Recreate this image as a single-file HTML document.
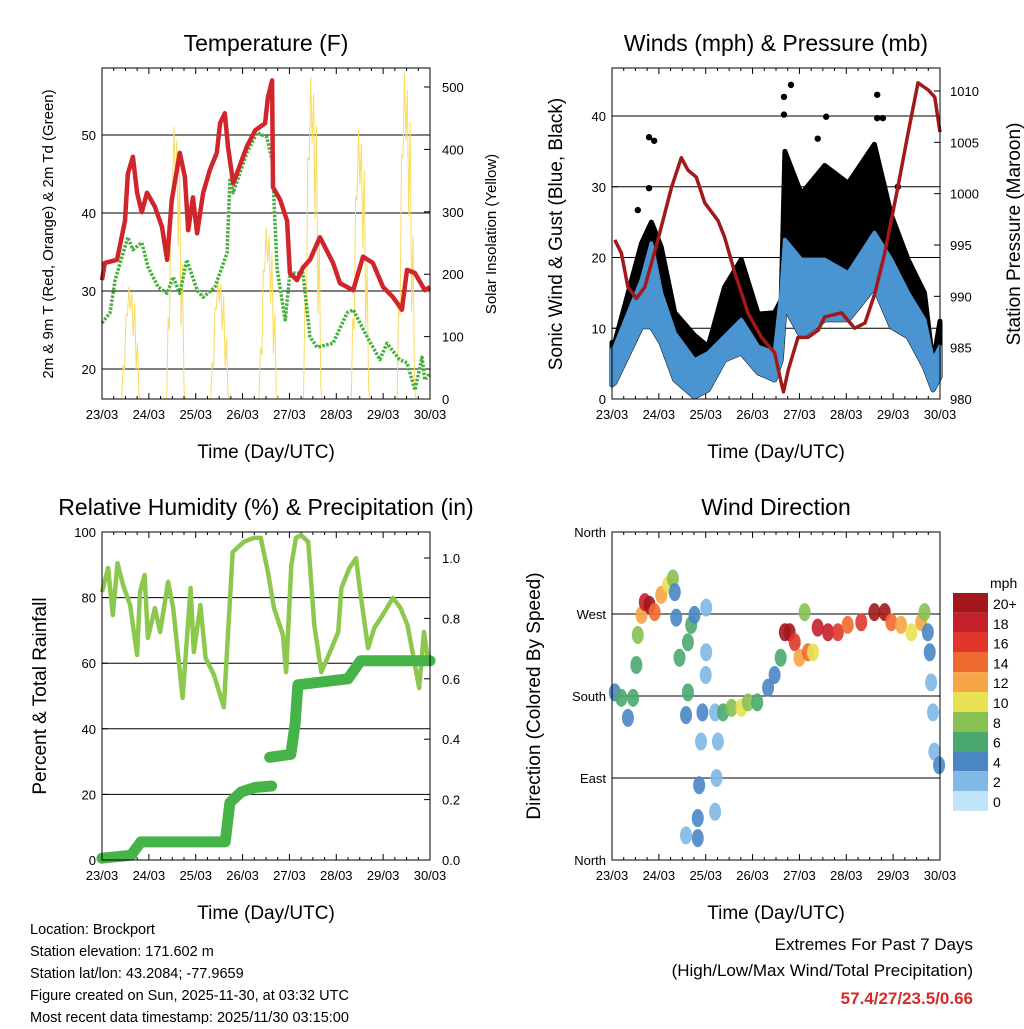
<!DOCTYPE html>
<html><head><meta charset="utf-8"><style>
body{margin:0;background:#fff;width:1024px;height:1024px;overflow:hidden}
svg{font-family:"Liberation Sans",sans-serif}
</style></head><body>
<svg id="s" width="1024" height="1024" xmlns="http://www.w3.org/2000/svg"></svg>
<script>
const dayLabels=["23/03","24/03","25/03","26/03","27/03","28/03","29/03","30/03"];
// Temperature (F)
const tT=[0,0.06,0.32,0.49,0.55,0.66,0.75,0.85,0.96,1.13,1.28,1.39,1.49,1.66,1.77,1.84,1.94,2.03,2.16,2.30,2.45,2.52,2.62,2.69,2.80,3.09,3.27,3.48,3.54,3.63,3.65,3.80,3.95,4.01,4.16,4.29,4.44,4.65,4.93,5.08,5.36,5.57,5.78,6.0,6.21,6.40,6.51,6.68,6.89,7.0];
const temp=[31.4,33.6,34,39,45,47.2,42.6,40.1,42.6,40.8,38.2,34,41.7,47.7,44.6,37.8,42,37.4,42.6,45.5,47.7,51.5,52.8,48.5,43.8,48.5,50.6,51.5,54.8,57,43.3,41.7,39,32.3,31.4,33,34,36.9,33.6,31,30.1,34.4,33.6,30.5,29.2,27.6,32.7,32.3,30.1,30.5];
// Dewpoint (F)
const tD=[0,0.17,0.28,0.55,0.66,0.85,0.98,1.2,1.39,1.52,1.66,1.81,2.03,2.16,2.41,2.67,2.73,2.80,3.09,3.31,3.52,3.63,3.74,3.91,4.01,4.29,4.44,4.59,4.93,5.23,5.36,5.66,5.93,6.08,6.35,6.51,6.68,6.83,6.89,7.0];
const dew=[25.9,27.2,31.4,36.9,35.3,36.2,33.1,30.5,29.7,31.8,29.7,34,30.1,29.2,30.5,34.9,44.2,42.6,47.7,50.3,49.7,46.8,32.7,26.3,32.3,32.3,24.1,22.8,23.3,27.2,27.6,24.1,21.2,23.3,21.2,20.8,17.3,21.5,18.6,19.5];
// Solar
const solarDay=[0.62,1.58,2.52,3.55,4.5,5.52,6.5];
const solarPeak=[180,436,195,275,516,431,522];
// Winds (mph)
const tW=[0,0.06,0.63,0.84,1.05,1.34,1.76,2.05,2.4,2.76,3.12,3.47,3.61,3.69,4.04,4.54,5.04,5.6,5.96,6.32,6.67,6.85,7.0];
const gustTop=[8,8,22,25,21.5,12.2,9,7.4,15.8,19.7,12,12.2,14,35,29,33,30.5,36,26,19.7,15,5,11];
const windTop=[7,7.4,16.8,22,15,9.3,5.5,6.5,8.8,11.2,7.4,6.5,15,22.5,19.7,19.7,17.8,23.5,19.7,15,11.2,5.5,7.4];
const windLow=[2,2.3,10.2,10.2,7.9,2.7,0.3,1.3,5.5,6.5,3.7,2.7,5.5,13,8.8,11.2,11.2,15.8,10.2,8.8,4.5,1.3,3.1];
const gustOutT=[0.55,0.79,0.9,0.79,3.67,3.82,3.67,4.57,4.39,5.66,5.66,5.78,6.1];
const gustOutV=[26.7,37,36.5,29.8,42.7,44.4,40.2,39.9,36.8,43,39.7,39.7,30];
// Pressure (mb)
const tP=[0.06,0.2,0.34,0.52,0.7,0.98,1.27,1.48,1.62,1.8,1.98,2.26,2.4,2.62,2.9,3.19,3.47,3.61,3.66,3.76,3.97,4.18,4.4,4.54,4.9,5.18,5.4,5.61,5.82,6.1,6.32,6.53,6.75,6.89,7.0];
const pres=[995.5,994.2,990.9,989.8,990.9,995.5,1000.6,1003.5,1002.3,1001.6,999.1,997.4,995.8,992.3,988.4,986,984.5,981.6,980.7,982.8,986,986,986.7,988,988.4,986.9,987.4,990.3,994.2,1000.6,1005.9,1010.8,1010.1,1009.4,1006];
// RH (%)
const tR=[0,0.13,0.23,0.33,0.45,0.6,0.75,0.81,0.91,0.98,1.13,1.24,1.41,1.52,1.72,1.89,1.96,2.1,2.21,2.39,2.6,2.79,3.03,3.24,3.39,3.54,3.67,3.86,3.93,4.04,4.14,4.25,4.4,4.53,4.68,4.9,5.04,5.11,5.28,5.42,5.5,5.68,5.81,5.99,6.21,6.37,6.52,6.65,6.77,6.87,6.95,7.0];
const rh=[81.7,89,74.7,90.5,83.8,77.7,62.5,81.7,86.9,67.7,76.8,69.5,84.8,76.8,49.4,82.9,63.4,77.7,61.6,56.4,46.6,93.9,97,98.2,98.2,87.8,76.8,68.6,57.3,89.9,98.2,99,97,71.6,57.3,64.6,69.5,82.9,89,92,82.9,64.6,70.7,74.7,79.9,76.8,71.6,61.6,52.4,69.5,61.6,61.6];
// Precip (in)
const tPr=[0,0.62,0.83,2.63,2.73,2.97,3.26,3.62];
const prec=[0.006,0.016,0.06,0.06,0.19,0.225,0.24,0.245];
const tPr2=[3.58,4.03,4.12,4.18,5.25,5.52,7.0];
const prec2=[0.34,0.35,0.45,0.58,0.6,0.66,0.66];
// Wind direction
const tDir=[0.06,0.2,0.34,0.45,0.52,0.55,0.63,0.7,0.8,0.91,1.05,1.2,1.3,1.34,1.37,1.44,1.62,1.69,1.62,1.58,1.76,2.01,2.01,2.0,1.93,1.9,1.86,1.83,1.83,1.58,2.2,2.26,2.23,2.2,2.37,2.55,2.76,2.9,3.1,3.33,3.47,3.6,3.69,3.79,3.9,4.0,4.11,4.18,4.29,4.39,4.61,4.82,5.03,5.32,5.6,5.82,5.96,6.17,6.39,6.6,6.67,6.74,6.78,6.81,6.85,6.88,6.98];
const dirs=[184,178,156,178,214,247,269,283,280,272,291,302,309,294,266,222,239,258,184,159,269,277,228,203,162,130,82,46,24,27,162,130,90,53,162,167,167,173,173,189,203,222,250,250,239,222,272,228,228,255,250,250,258,261,272,272,261,258,250,261,272,250,228,195,162,119,104];
const dspd=[4,6,4,6,6,8,12,18,20,14,12,10,8,4,4,6,6,6,6,4,4,2,2,2,4,2,4,4,4,2,2,2,2,2,6,8,10,8,6,4,4,6,20,20,16,12,8,14,10,18,18,16,14,16,20,20,14,12,10,12,8,4,4,2,2,2,4];
const cbLabels=["20+","18","16","14","12","10","8","6","4","2","0"];
const cbColors=["#a3161c","#c4202a","#e0362b","#ef6a2f","#f6a446","#e7e153","#86c152","#4aa86e","#4a86c4","#80b8e6","#bfe3f7"];

const S=document.getElementById('s');const NS="http://www.w3.org/2000/svg";
function el(tag,attrs,parent,text){const e=document.createElementNS(NS,tag);for(const k in attrs)e.setAttribute(k,attrs[k]);if(text!==undefined)e.textContent=text;(parent||S).appendChild(e);return e;}
function lin(d0,d1,r0,r1){return v=>r0+(v-d0)/(d1-d0)*(r1-r0);}
function pts(ts,vs,fx,fy){return ts.map((t,i)=>fx(t).toFixed(1)+","+fy(vs[i]).toFixed(1)).join(" ");}
function band(ts,lo,hi,fx,fy){const a=ts.map((t,i)=>fx(t).toFixed(1)+","+fy(hi[i]).toFixed(1));const b=ts.map((t,i)=>fx(t).toFixed(1)+","+fy(lo[i]).toFixed(1)).reverse();return a.concat(b).join(" ");}

function frame(x0,y0,x1,y1,name,title,xlab){
  const g=el('g',{});
  const fx=lin(0,7,x0,x1);
  const t=el('text',{x:(x0+x1)/2,y:y0-17,'text-anchor':'middle','font-size':23},g,title);
  
  const xl=el('text',{x:(x0+x1)/2,y:y1+59,'text-anchor':'middle','font-size':19},g,xlab);
  
  dayLabels.forEach((l,i)=>{const x=fx(i);el('line',{x1:x,x2:x,y1:y1,y2:y1-6,stroke:'#000'},g);
    const tl=el('text',{x:x,y:y1+20,'text-anchor':'middle','font-size':13},g,l);
    
    for(let h=1;h<4&&i<7;h++){const xx=fx(i+h/4);el('line',{x1:xx,x2:xx,y1:y1,y2:y1-3,stroke:'#000'},g);el('line',{x1:xx,x2:xx,y1:y0,y2:y0+3,stroke:'#000'},g);}
    el('line',{x1:x,x2:x,y1:y0,y2:y0+6,stroke:'#000'},g);});
  return {g,fx};
}
function border(g,x0,y0,x1,y1){el('rect',{x:x0,y:y0,width:x1-x0,height:y1-y0,fill:'none',stroke:'#000','stroke-width':1},g);}
function yTicks(g,vals,labels,fy,x,side,grid,x0,x1){vals.forEach((v,i)=>{const y=fy(v);
  if(grid)el('line',{x1:x0,x2:x1,y1:y,y2:y,stroke:'#000','stroke-width':1},g);
  el('line',{x1:x,x2:x+(side<0?6:-6),y1:y,y2:y,stroke:'#000'},g);
  const t=el('text',{x:side<0?x-6:x+10,y:y+5,'text-anchor':side<0?'end':'start','font-size':13},g,labels[i]);
  });}
function vlabel(g,x,y,txt,size,name){const t=el('text',{x:x,y:y,'text-anchor':'middle','font-size':size,transform:`rotate(-90 ${x} ${y})`},g,txt);}

// Panel 1
(function(){const x0=102,y0=68,x1=430,y1=399;const {g,fx}=frame(x0,y0,x1,y1,'temperature-panel','Temperature (F)','Time (Day/UTC)');
 const fy=lin(20,50,369,135);const fs=lin(0,500,399,87);
 yTicks(g,[20,30,40,50],["20","30","40","50"],fy,x0,-1,true,x0,x1);
 [0,100,200,300,400,500].forEach(v=>{const y=fs(v);el('line',{x1:x1,x2:x1-6,y1:y,y2:y,stroke:'#000'},g);const t=el('text',{x:x1+12,y:y+5,'font-size':13},g,String(v));});
 const fr=[0,0.3,0.55,0.75,0.9,1,0.8,0.95,0.6,0.85,0.4,0.5,0.15,0];
 solarDay.forEach((c,i)=>{const p=solarPeak[i];let d="M"+fx(c-0.2).toFixed(1)+","+fs(0).toFixed(1);
   for(let k=1;k<fr.length;k++){const tt=c-0.2+0.4*k/(fr.length-1);const env=Math.sin(Math.PI*k/(fr.length-1));d+="L"+fx(tt).toFixed(1)+","+fs(p*fr[k]*(k%2?1:env)).toFixed(1);}
   const pth=el('path',{d:d,fill:'none',stroke:'#f9dc60','stroke-width':1},g);});
 const dl=el('polyline',{points:pts(tD,dew,fx,fy),fill:'none',stroke:'#45b03c','stroke-width':3.5,'stroke-dasharray':'2.5,1.5','stroke-linejoin':'round'},g);
 const tl=el('polyline',{points:pts(tT,temp,fx,fy),fill:'none',stroke:'#d0252a','stroke-width':4.5,'stroke-linejoin':'round'},g);
 border(g,x0,y0,x1,y1);
 vlabel(g,53,234,'2m & 9m T (Red, Orange) & 2m Td (Green)',15,'y-axis-title');
 vlabel(g,496,234,'Solar Insolation (Yellow)',15,'y2-axis-title');})();

// Panel 2
(function(){const x0=612,y0=68,x1=940,y1=399;const {g,fx}=frame(x0,y0,x1,y1,'winds-panel','Winds (mph) & Pressure (mb)','Time (Day/UTC)');
 const fy=lin(0,40,399,116);const fp=lin(980,1010,399,91);
 yTicks(g,[0,10,20,30,40],["0","10","20","30","40"],fy,x0,-1,true,x0,x1);
 [980,985,990,995,1000,1005,1010].forEach(v=>{const y=fp(v);el('line',{x1:x1,x2:x1-6,y1:y,y2:y,stroke:'#000'},g);const t=el('text',{x:x1+10,y:y+5,'font-size':13},g,String(v));});
 const gb=el('polygon',{points:band(tW,windLow,gustTop,fx,fy),fill:'#000',stroke:'#000','stroke-width':5,'stroke-linejoin':'round'},g);
 gustOutT.forEach((t,i)=>{const c=el('circle',{cx:fx(t),cy:fy(gustOutV[i]),r:3.2,fill:'#000'},g);});
 const wb=el('polygon',{points:band(tW,windLow,windTop,fx,fy),fill:'#4a94d2',stroke:'#4a94d2','stroke-width':4,'stroke-linejoin':'round'},g);
 const pl=el('polyline',{points:pts(tP,pres,fx,fp),fill:'none',stroke:'#a01a1a','stroke-width':3.5,'stroke-linejoin':'round'},g);
 border(g,x0,y0,x1,y1);
 vlabel(g,562,234,'Sonic Wind & Gust (Blue, Black)',19,'y-axis-title');
 vlabel(g,1020,234,'Station Pressure (Maroon)',19,'y2-axis-title');})();

// Panel 3
(function(){const x0=102,y0=532,x1=430,y1=860;const {g,fx}=frame(x0,y0,x1,y1,'humidity-panel','Relative Humidity (%) & Precipitation (in)','Time (Day/UTC)');
 g.querySelector('text').setAttribute('x',266);
 const fy=lin(0,100,860,532);const fr=lin(0,1,860,558);
 yTicks(g,[0,20,40,60,80,100],["0","20","40","60","80","100"],fy,x0,-1,true,x0,x1);
 [0,0.2,0.4,0.6,0.8,1.0].forEach(v=>{const y=fr(v);el('line',{x1:x1,x2:x1-6,y1:y,y2:y,stroke:'#000'},g);const t=el('text',{x:x1+12,y:y+5,'font-size':13},g,v.toFixed(1));});
 const r=el('polyline',{points:pts(tR,rh,fx,fy),fill:'none',stroke:'#8dc84e','stroke-width':4.5,'stroke-linejoin':'round'},g);
 const p1=el('polyline',{points:pts(tPr,prec,fx,fr),fill:'none',stroke:'#45b347','stroke-width':11,'stroke-linecap':'round','stroke-linejoin':'round'},g);
 const p2=el('polyline',{points:pts(tPr2,prec2,fx,fr),fill:'none',stroke:'#45b347','stroke-width':11,'stroke-linecap':'round','stroke-linejoin':'round'},g);
 border(g,x0,y0,x1,y1);
 vlabel(g,46,696,'Percent & Total Rainfall',19,'y-axis-title');})();

// Panel 4
(function(){const x0=612,y0=532,x1=940,y1=860;const {g,fx}=frame(x0,y0,x1,y1,'wind-direction-panel','Wind Direction','Time (Day/UTC)');
 const fy=lin(0,360,860,532);
 yTicks(g,[0,90,180,270,360],["North","East","South","West","North"],fy,x0,-1,true,x0,x1);
 const ci=s=>cbColors[10-Math.max(0,Math.min(10,Math.floor(s/2)))];
 tDir.forEach((t,i)=>{const c=el('ellipse',{cx:fx(t),cy:fy(dirs[i]),rx:6,ry:9,fill:ci(dspd[i]),opacity:0.9},g);});
 border(g,x0,y0,x1,y1);
 vlabel(g,540,696,'Direction (Colored By Speed)',19,'y-axis-title');
 const cb=el('g',{},g);
 el('text',{x:990,y:588,'font-size':14},cb,'mph');
 cbColors.forEach((c,i)=>{const y=593+i*19.8;el('rect',{x:953,y:y,width:35,height:19.8,fill:c},cb);const t=el('text',{x:993,y:y+16,'font-size':14},cb,cbLabels[i]);});})();

// Footer
const info=["Location: Brockport","Station elevation: 171.602 m","Station lat/lon: 43.2084; -77.9659","Figure created on Sun, 2025-11-30, at 03:32 UTC","Most recent data timestamp: 2025/11/30 03:15:00"];
info.forEach((s,i)=>{const t=el('text',{x:30,y:934+i*22,'font-size':14.5},S,s);});
[["Extremes For Past 7 Days",950,'#000','normal'],["(High/Low/Max Wind/Total Precipitation)",976,'#000','normal'],["57.4/27/23.5/0.66",1004,'#d42a2a','bold']].forEach(a=>{const t=el('text',{x:973,y:a[1],'text-anchor':'end','font-size':17,fill:a[2],'font-weight':a[3]},S,a[0]);});
</script>
</body></html>
